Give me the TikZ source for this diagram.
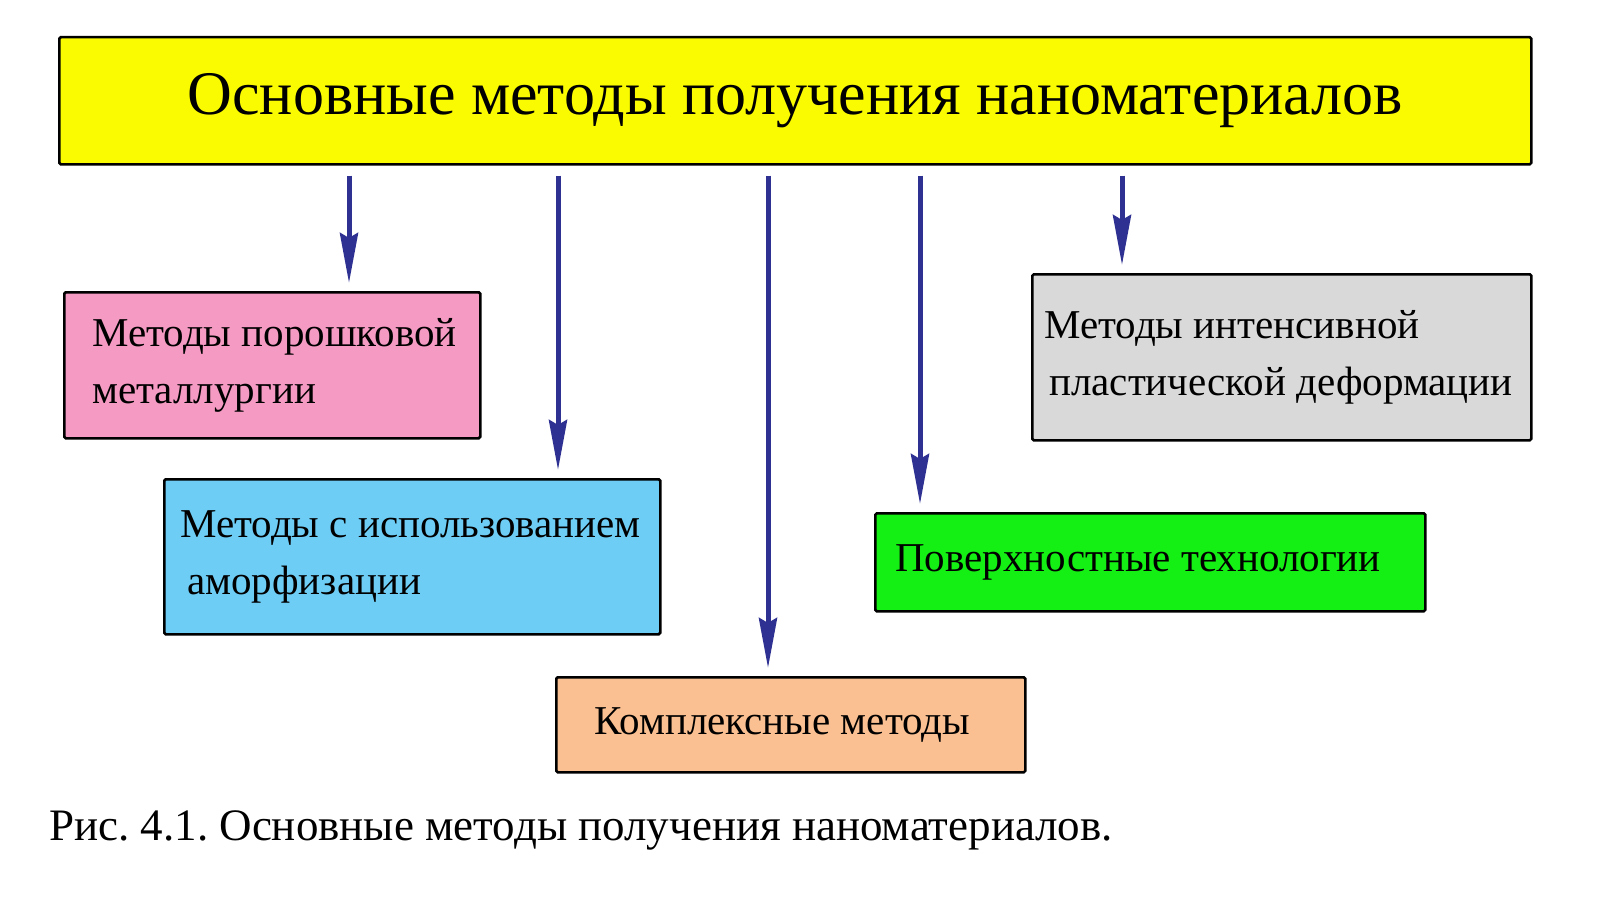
\documentclass[tikz,border=0pt]{standalone}
\usepackage{fontspec}
\setmainfont{Liberation Serif}
\frenchspacing
\usetikzlibrary{arrows.meta, positioning}
\definecolor{ttlyellow}{RGB}{250,250,0}
\definecolor{pwpink}{RGB}{245,155,195}
\definecolor{amblue}{RGB}{110,205,245}
\definecolor{kmorange}{RGB}{250,192,145}
\definecolor{ptgreen}{RGB}{20,240,20}
\definecolor{ipgray}{RGB}{217,217,217}
\definecolor{arrblue}{RGB}{46,49,146}
\tikzset{
  methbox/.style={draw=black, line width=2.5pt, rounded corners=1.5pt,
    anchor=north west, align=flush left, inner ysep=0pt, inner xsep=8pt,
    font=\fontsize{41}{57}\selectfont},
  arr/.style={draw=arrblue, line width=5pt,
    -{Stealth[length=50pt, width=18pt, inset=5pt]},
    shorten <=10pt, shorten >=8pt}
}
\begin{document}
\begin{tikzpicture}[x=1pt, y=-1pt]
\useasboundingbox[fill=white] (0,0) rectangle (1600,899);
% title
\node[methbox, fill=ttlyellow, align=center, inner sep=0pt,
  minimum width=1472pt, minimum height=127pt,
  font=\fontsize{62}{70}\selectfont] (title) at (58,36)
  {Основные методы получения наноматериалов};
% method boxes (text width = box width - 16pt)
\node[methbox, fill=pwpink, text width=400pt, minimum height=146pt]
  (pw) at (63,291)
  {\hspace*{20pt}Методы~порошковой\\\hspace*{20pt}металлургии};
\node[methbox, fill=amblue, text width=480pt, minimum height=155pt]
  (am) at (163,478)
  {\hspace*{8pt}Методы~с~использованием\\\hspace*{15pt}аморфизации};
\node[methbox, fill=kmorange, text width=453pt, minimum height=95pt]
  (km) at (555,676)
  {\hspace*{30pt}Комплексные~методы};
\node[methbox, fill=ptgreen, text width=534pt, minimum height=98pt]
  (pt) at (874,512)
  {\hspace*{12pt}Поверхностные~технологии};
\node[methbox, fill=ipgray, text width=483pt, minimum height=166pt]
  (ip) at (1031,273)
  {\hspace*{4pt}Методы~интенсивной\\\hspace*{9pt}пластической~деформации};
% arrows
\draw[arr] (title.south -| 349,0) -- (pw.north -| 349,0);
\draw[arr] (title.south -| 558,0) -- (am.north -| 558,0);
\draw[arr] (title.south -| 768,0) -- (km.north -| 768,0);
\draw[arr] (title.south -| 920,0) -- (pt.north -| 920,0);
\draw[arr] (title.south -| 1122,0) -- (ip.north -| 1122,0);
% caption
\node[anchor=west, inner sep=0pt, font=\fontsize{45}{50}\selectfont]
  (cap) at (49,830) {Рис. 4.1. Основные методы получения наноматериалов.};
\end{tikzpicture}
\end{document}
